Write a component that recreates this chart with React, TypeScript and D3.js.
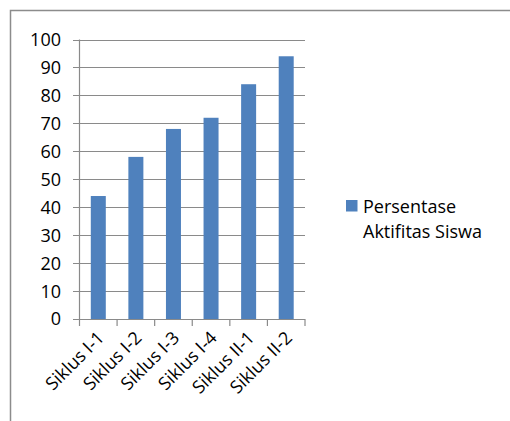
import React from "react";
import * as d3 from "d3";

const categories = ["Siklus I-1", "Siklus I-2", "Siklus I-3", "Siklus I-4", "Siklus II-1", "Siklus II-2"];
const values = [44, 58, 68, 72, 84, 94];
const yTicks = [0, 10, 20, 30, 40, 50, 60, 70, 80, 90, 100];
const seriesName = ["Persentase", "Aktifitas Siswa"];

const W = 510, H = 421;
const left = 79.5, right = 305, top = 39.5, bottom = 319;
const font = "'Open Sans', sans-serif";
const grid = "#8a8a8a";
const barColor = "#4F81BD";

export default function App() {
  const x = d3.scaleBand<string>().domain(categories).range([left, right]).paddingInner(0).paddingOuter(0);
  const y = d3.scaleLinear().domain([0, 100]).range([bottom, top]);
  const bw = 15;
  return (
    <svg width={W} height={H} style={{ position: "absolute", left: 0, top: 0, background: "#fff" }}>
      <rect x={10.5} y={10.5} width={700} height={700} fill="none" stroke="#8c8c8c" strokeWidth={1.5} />
      {yTicks.map((t) => (
        <g key={t}>
          <line x1={73} x2={right} y1={Math.round(y(t)) + 0.5} y2={Math.round(y(t)) + 0.5} stroke={grid} strokeWidth={1.2} />
          <text x={61} y={y(t)} dy="0.36em" textAnchor="end" fontFamily={font} fontSize={18} fill="#000">{t}</text>
        </g>
      ))}
      <line x1={left} x2={left} y1={top} y2={bottom} stroke={grid} strokeWidth={1.2} />
      {categories.map((c, i) => (
        <line key={"t" + i} x1={x(c)!} x2={x(c)!} y1={bottom} y2={bottom + 7} stroke={grid} strokeWidth={1.2} />
      ))}
      <line x1={right} x2={right} y1={bottom} y2={bottom + 7} stroke={grid} strokeWidth={1.2} />
      {categories.map((c, i) => (
        <rect key={"b" + i} x={x(c)! + x.bandwidth() / 2 - bw / 2} y={y(values[i])} width={bw} height={bottom - y(values[i])} fill={barColor} />
      ))}
      {categories.map((c, i) => {
        const cx = x(c)! + x.bandwidth() / 2 + 7;
        const cy = bottom + 20;
        return (
          <text key={"l" + i} x={cx} y={cy} transform={`rotate(-45 ${cx} ${cy})`} textAnchor="end" fontFamily={font} fontSize={18} fill="#000">{c}</text>
        );
      })}
      <rect x={346} y={200} width={11.5} height={11.5} fill={barColor} />
      <text x={363} y={213} fontFamily={font} fontSize={18} fill="#000">{seriesName[0]}</text>
      <text x={363} y={238} fontFamily={font} fontSize={18} fill="#000">{seriesName[1]}</text>
    </svg>
  );
}
